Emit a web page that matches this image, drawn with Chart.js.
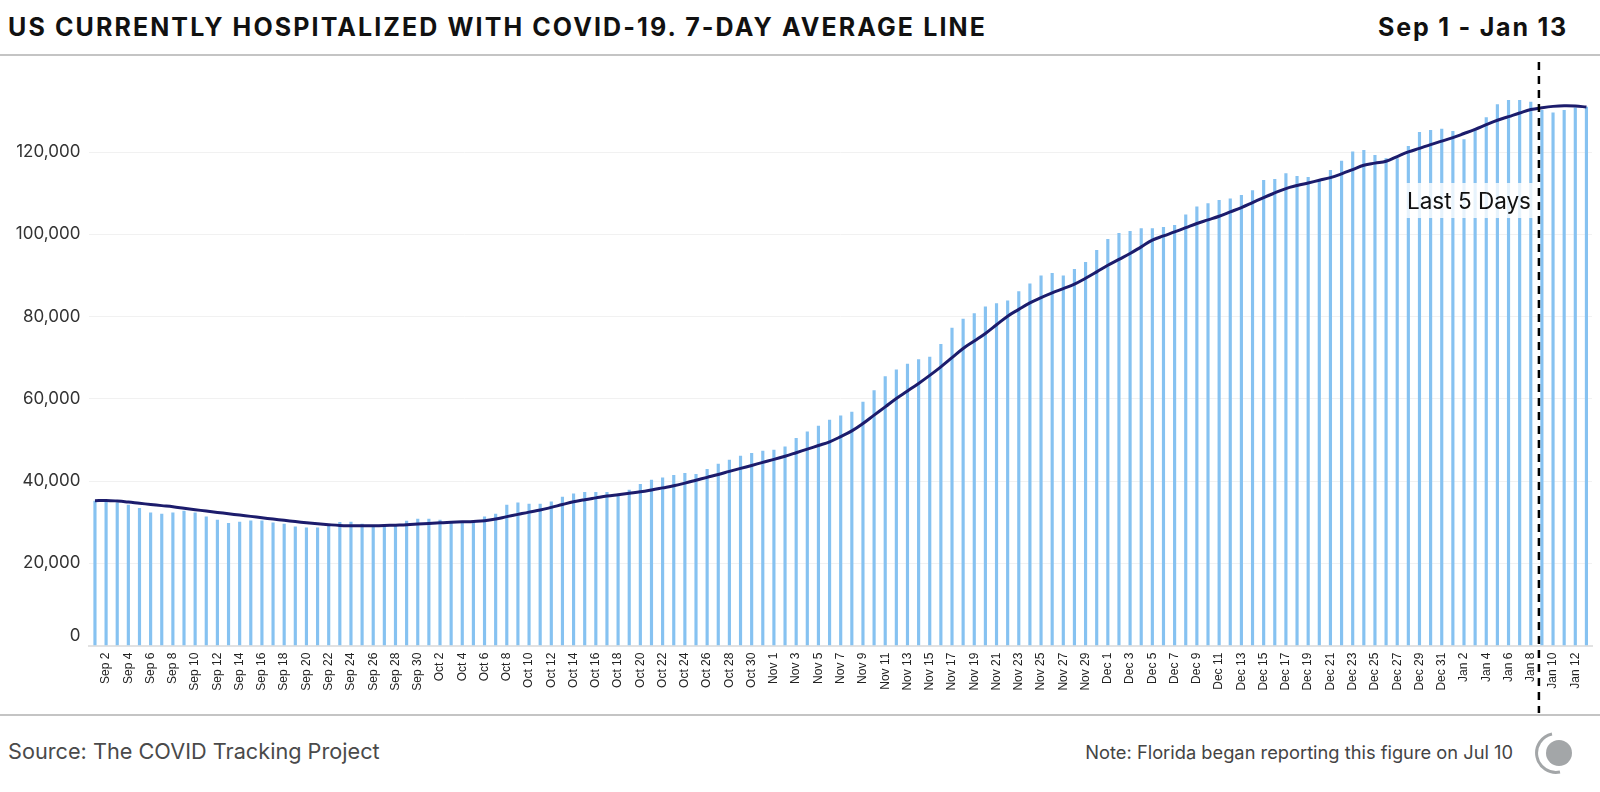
<!DOCTYPE html>
<html>
<head>
<meta charset="utf-8">
<script src="https://cdn.jsdelivr.net/npm/chart.js@4/dist/chart.umd.min.js"></script>
<style>
  html, body { margin: 0; padding: 0; background: #fff; }
  #page { position: relative; width: 1600px; height: 792px; overflow: hidden; font-family: Inter, "Noto Sans", sans-serif; }
  #title { position: absolute; left: 8px; top: 12px; font-size: 25px; font-weight: 700; color: #111; letter-spacing: 2.1px; white-space: nowrap; }
  #range { position: absolute; right: 32px; top: 12px; font-size: 25px; font-weight: 700; color: #111; letter-spacing: 1.8px; white-space: nowrap; }
  .rule { position: absolute; left: 0; width: 1600px; height: 2px; background: #c4c4c4; }
  #chartWrap { position: absolute; left: 0; top: 56px; width: 1600px; height: 658px; }
  #last5 { position: absolute; left: 1405px; top: 183px; width: 128px; height: 35px; line-height: 35px; text-align: center; font-size: 22.5px; color: #111; background: rgba(255,255,255,0.8); white-space: nowrap; }
  #source { position: absolute; left: 8px; top: 738px; font-size: 21.7px; color: #4a4a4a; white-space: nowrap; }
  #note { position: absolute; right: 87px; top: 741px; font-size: 18.3px; color: #444; white-space: nowrap; }
  #logo { position: absolute; left: 1532px; top: 728px; }
</style>
</head>
<body>
<div id="page">
  <div id="title">US CURRENTLY HOSPITALIZED WITH COVID-19. 7-DAY AVERAGE LINE</div>
  <div id="range">Sep 1 - Jan 13</div>
  <div class="rule" style="top:54px"></div>
  <div id="chartWrap"><canvas id="hospChart"></canvas></div>
  <div id="last5">Last 5 Days</div>
  <div class="rule" style="top:714px"></div>
  <div id="source">Source: The COVID Tracking Project</div>
  <div id="note">Note: Florida began reporting this figure on Jul 10</div>
  <svg id="logo" width="50" height="50" viewBox="0 0 50 50">
    <path d="M 20 6 A 19 19 0 0 0 28 44" fill="none" stroke="#a3a6a8" stroke-width="3"/>
    <circle cx="27" cy="25" r="13" fill="#a3a6a8"/>
  </svg>
</div>

<script>
// Dates Sep 1 - Jan 13
const dates = [
  'Sep 1','Sep 2','Sep 3','Sep 4','Sep 5','Sep 6','Sep 7','Sep 8','Sep 9','Sep 10',
  'Sep 11','Sep 12','Sep 13','Sep 14','Sep 15','Sep 16','Sep 17','Sep 18','Sep 19','Sep 20',
  'Sep 21','Sep 22','Sep 23','Sep 24','Sep 25','Sep 26','Sep 27','Sep 28','Sep 29','Sep 30',
  'Oct 1','Oct 2','Oct 3','Oct 4','Oct 5','Oct 6','Oct 7','Oct 8','Oct 9','Oct 10',
  'Oct 11','Oct 12','Oct 13','Oct 14','Oct 15','Oct 16','Oct 17','Oct 18','Oct 19','Oct 20',
  'Oct 21','Oct 22','Oct 23','Oct 24','Oct 25','Oct 26','Oct 27','Oct 28','Oct 29','Oct 30','Oct 31',
  'Nov 1','Nov 2','Nov 3','Nov 4','Nov 5','Nov 6','Nov 7','Nov 8','Nov 9','Nov 10',
  'Nov 11','Nov 12','Nov 13','Nov 14','Nov 15','Nov 16','Nov 17','Nov 18','Nov 19','Nov 20',
  'Nov 21','Nov 22','Nov 23','Nov 24','Nov 25','Nov 26','Nov 27','Nov 28','Nov 29','Nov 30',
  'Dec 1','Dec 2','Dec 3','Dec 4','Dec 5','Dec 6','Dec 7','Dec 8','Dec 9','Dec 10',
  'Dec 11','Dec 12','Dec 13','Dec 14','Dec 15','Dec 16','Dec 17','Dec 18','Dec 19','Dec 20',
  'Dec 21','Dec 22','Dec 23','Dec 24','Dec 25','Dec 26','Dec 27','Dec 28','Dec 29','Dec 30','Dec 31',
  'Jan 1','Jan 2','Jan 3','Jan 4','Jan 5','Jan 6','Jan 7','Jan 8','Jan 9','Jan 10',
  'Jan 11','Jan 12','Jan 13'
];

// daily currently hospitalized
const hospitalized = [
  35140, 35100, 34730, 34170, 33360, 32300, 31980, 32300, 32710, 32300,
  31330, 30520, 29710, 30030, 30350, 30350, 29870, 29550, 28900, 28650,
  28650, 29060, 29960, 30030, 29550, 29060, 29300, 29300, 30280, 30760,
  30760, 30520, 30110, 30110, 30110, 31330, 31980, 34170, 34730, 34410,
  34410, 34970, 36110, 36910, 37250, 37250, 37250, 36350, 37810, 39200,
  40240, 40800, 41380, 41870, 41620, 42840, 44130, 45100, 46070, 46730, 47290,
  47530, 48340, 50370, 51980, 53360, 54820, 55870, 56760, 59190, 62030,
  65430, 67050, 68430, 69570, 70130, 73220, 77180, 79370, 80750, 82370,
  83180, 83810, 86090, 87940, 89880, 90540, 89880, 91510, 93210, 96130,
  98800, 100260, 100750, 101400, 101400, 101720, 102200, 104710, 106650, 107480,
  108280, 108600, 109500, 110640, 113140, 113380, 114760, 114110, 113870, 113100,
  115570, 117830, 120020, 120430, 119210, 118410, 118410, 121400, 124800, 125290, 125610,
  125050, 123030, 125610, 128370, 131530, 132580, 132580, 132170, 130120, 129560,
  130120, 130770, 130930
];

// 7-day average line
const avg7 = [
  35230, 35300, 35150, 34900, 34600, 34320, 34030, 33750, 33400, 33050,
  32710, 32380, 32060, 31740, 31420, 31090, 30760, 30460, 30160, 29870,
  29620, 29400, 29220, 29150, 29120, 29140, 29200, 29290, 29380, 29540,
  29710, 29870, 29980, 30090, 30190, 30350, 30760, 31350, 31900, 32450,
  32950, 33600, 34300, 34970, 35480, 35920, 36350, 36700, 37050, 37400,
  37850, 38350, 38860, 39500, 40200, 40900, 41600, 42350, 43080, 43800, 44550,
  45270, 46050, 46900, 47770, 48650, 49550, 50800, 52200, 54000, 56040,
  58050, 60090, 61900, 63740, 65700, 67780, 70000, 72240, 74050, 75890,
  78000, 80090, 81750, 83330, 84600, 85760, 86800, 87870, 89300, 90860,
  92480, 93900, 95330, 96950, 98560, 99600, 100580, 101600, 102620, 103500,
  104390, 105450, 106500, 107700, 108930, 110050, 111120, 111850, 112490, 113140,
  113790, 114700, 115730, 116780, 117300, 117750, 118900, 120020, 120900, 121800, 122650,
  123500, 124500, 125530, 126650, 127720, 128600, 129500, 130330, 130770, 131100,
  131260, 131200, 130930
];

const yTicks = [0, 20000, 40000, 60000, 80000, 100000, 120000];
const lastDaysStart = 130; // Jan 9

// dashed marker before the last 5 days
const markerLine = {
  id: 'markerLine',
  afterDatasetsDraw(chart) {
    const ctx = chart.ctx;
    const xs = chart.scales.x;
    const x = xs.getPixelForValue(lastDaysStart) - 3;
    ctx.save();
    ctx.strokeStyle = '#000';
    ctx.lineWidth = 2.5;
    ctx.setLineDash([8, 6]);
    ctx.beginPath();
    ctx.moveTo(x, 6);
    ctx.lineTo(x, chart.height - 1);
    ctx.stroke();
    ctx.restore();
  }
};

const ctx = document.getElementById('hospChart').getContext('2d');

const hospChart = new Chart(ctx, {
  data: {
    labels: dates,
    datasets: [{
      type: 'line',
      label: '7-day average',
      data: avg7,
      borderColor: '#1c1c6c',
      borderWidth: 3,
      pointRadius: 0,
      tension: 0.4,
      order: 0
    }, {
      type: 'bar',
      label: 'Currently hospitalized',
      data: hospitalized,
      backgroundColor: '#86c2f1',
      barThickness: 2.5,
      order: 1
    }]
  },
  options: {
    responsive: true,
    maintainAspectRatio: false,
    animation: false,
    layout: { padding: { top: 22, right: 8, left: 0, bottom: 0 } },
    plugins: {
      legend: { display: false },
      tooltip: { enabled: false }
    },
    scales: {
      x: {
        grid: { display: false, drawTicks: false },
        border: { display: true, color: '#e2e2e2', width: 2 },
        afterFit(scale) {
          scale.height = 68.4;
          scale.paddingLeft = 0;
          scale.paddingRight = 0;
        },
        ticks: {
          autoSkip: false,
          minRotation: 90,
          maxRotation: 90,
          padding: 7,
          color: '#222',
          font: { family: '"Liberation Sans", Arial, sans-serif', size: 12 },
          callback: function (value, index) {
            return index % 2 === 1 ? dates[index] : '';
          }
        }
      },
      y: {
        min: 0,
        max: 138000,
        afterFit(scale) { scale.width = 89.4; },
        afterBuildTicks(scale) {
          scale.ticks = yTicks.map(v => ({ value: v }));
        },
        grid: { color: '#f1f1f1', lineWidth: 1, drawTicks: false },
        border: { display: false },
        ticks: {
          padding: 9,
          color: '#333',
          font: { family: 'Inter, sans-serif', size: 17 },
          // the zero label sits a little above the baseline
          callback: v => v === 0 ? ['0', ''] : v.toLocaleString('en-US')
        }
      }
    }
  },
  plugins: [markerLine]
});
</script>
</body>
</html>
